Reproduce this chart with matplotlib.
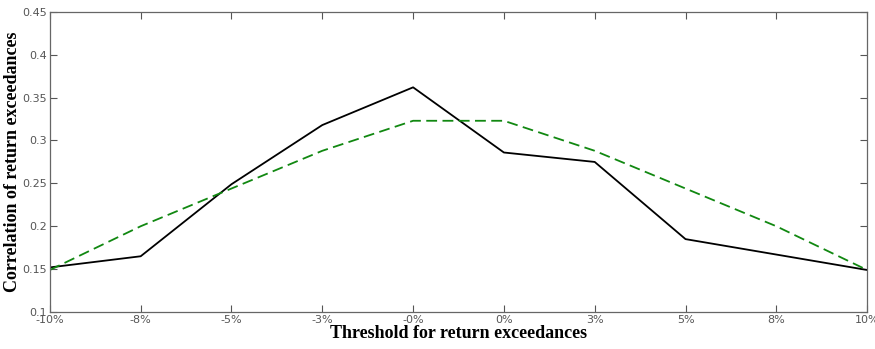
from matplotlib import pyplot as plt

THRESHOLDS = ["-10%", "-8%", "-5%", "-3%", "-0%", "0%", "3%", "5%", "8%", "10%"]
EMPIRICAL = [0.152, 0.165, 0.249, 0.318, 0.362, 0.286, 0.275, 0.185, 0.167, 0.149]
NORMAL = [0.149, 0.200, 0.244, 0.288, 0.323, 0.323, 0.288, 0.244, 0.200, 0.149]
Y_TICKS = [0.1, 0.15, 0.2, 0.25, 0.3, 0.35, 0.4, 0.45]
Y_LABELS = ["0.1", "0.15", "0.2", "0.25", "0.3", "0.35", "0.4", "0.45"]


def main():
    fig = plt.figure(figsize=(8.75, 3.49), dpi=100)
    ax = fig.add_axes([0.057, 0.106, 0.934, 0.86])

    x = range(len(THRESHOLDS))
    ax.plot(x, EMPIRICAL, color="black", linewidth=1.3)
    ax.plot(x, NORMAL, color="#118811", linewidth=1.3, linestyle=(0, (6, 3)))

    ax.set_xlim(0, len(THRESHOLDS) - 1)
    ax.set_ylim(0.1, 0.45)
    ax.set_xticks(list(x))
    ax.set_xticklabels(THRESHOLDS)
    ax.set_yticks(Y_TICKS)
    ax.set_yticklabels(Y_LABELS)

    ax.tick_params(direction="in", top=True, right=True, length=5, width=0.8,
                   colors="#555555", labelsize=8, pad=2)
    for spine in ax.spines.values():
        spine.set_color("#666666")
        spine.set_linewidth(0.9)

    label_font = {"family": ["Liberation Serif", "DejaVu Serif"], "weight": "bold", "size": 13}
    ax.set_xlabel("Threshold for return exceedances", fontdict=label_font, labelpad=0)
    ax.set_ylabel("Correlation of return exceedances", fontdict=label_font, labelpad=1)

    fig.savefig("out.png", dpi=100)


if __name__ == "__main__":
    main()
